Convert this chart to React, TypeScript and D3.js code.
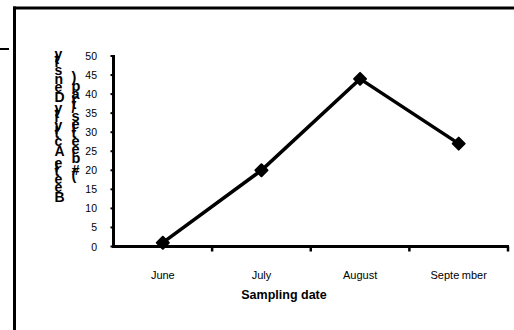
import React from "react";
import * as d3 from "d3";

const months = ["June", "July", "August", "September"];
const beetles = [1, 20, 44, 27];
const yTicks = [0, 5, 10, 15, 20, 25, 30, 35, 40, 45, 50];
const yTitle1 = "Beetle Activity Density";
const yTitle2 = "(# beetles/trap)";
const xTitle = "Sampling date";

// Arial/Liberation Sans Bold advance widths (per em)
const boldWidths: Record<string, number> = {
  " ": 0.278, "(": 0.333, ")": 0.333, "#": 0.556, "/": 0.278,
  A: 0.722, B: 0.722, D: 0.722, a: 0.556, b: 0.611, c: 0.556, e: 0.556,
  i: 0.278, l: 0.278, n: 0.611, p: 0.611, r: 0.389, s: 0.556, t: 0.333,
  v: 0.556, y: 0.556,
};

function StackedTitle({ text, x, bottom, size }: { text: string; x: number; bottom: number; size: number }) {
  let acc = 0;
  const items = text.split("").map((ch, i) => {
    const yy = bottom - acc;
    acc += (boldWidths[ch] ?? 0.556) * size;
    return { ch, yy, i };
  });
  return (
    <g>
      {items.map(({ ch, yy, i }) =>
        ch === " " ? null : (
          <text key={i} x={x} y={yy} fontSize={size} fontWeight="bold" fill="#000">
            {ch}
          </text>
        )
      )}
    </g>
  );
}

export default function App() {
  const W = 514, H = 330;
  const x0 = 113.5, x1 = 508, yTop = 56, yBot = 246.5;
  const x = d3.scaleBand<string>().domain(months).range([x0, x1]);
  const y = d3.scaleLinear().domain([0, 50]).range([yBot, yTop]);
  const line = d3
    .line<number>()
    .x((_, i) => (x(months[i]) as number) + x.bandwidth() / 2)
    .y((d) => y(d));
  const sq = d3.symbol(d3.symbolSquare, 72)();
  const font = "Liberation Sans, Arial, sans-serif";
  const boundaries = months.map((m) => (x(m) as number) + x.bandwidth());
  return (
    <svg
      width={W}
      height={H}
      style={{ position: "absolute", left: 0, top: 0, background: "#fff" }}
      fontFamily={font}
    >
      <rect x={0} y={0} width={W} height={H} fill="#fff" />
      {/* frame */}
      <line x1={14.5} x2={14.5} y1={6.5} y2={H} stroke="#000" strokeWidth={3} />
      <line x1={13} x2={W} y1={8} y2={8} stroke="#000" strokeWidth={3} />
      <line x1={0} x2={9} y1={49} y2={49} stroke="#000" strokeWidth={2} />

      {/* y axis */}
      <line x1={x0} x2={x0} y1={yTop - 1} y2={yBot + 1.5} stroke="#000" strokeWidth={3} />
      {yTicks.map((t) => (
        <g key={t}>
          <line x1={x0 - 3} x2={x0} y1={y(t)} y2={y(t)} stroke="#000" strokeWidth={2} />
          <text x={97} y={y(t) + 4} fontSize={10.5} textAnchor="end" fill="#000">
            {t}
          </text>
        </g>
      ))}
      {/* x axis */}
      <line x1={x0 - 1.5} x2={x1 + 1} y1={yBot} y2={yBot} stroke="#000" strokeWidth={3} />
      {boundaries.map((b, i) => (
        <line key={i} x1={b} x2={b} y1={yBot} y2={yBot + 5} stroke="#000" strokeWidth={2.5} />
      ))}
      {months.map((m) => (
        <text
          key={m}
          x={(x(m) as number) + x.bandwidth() / 2}
          y={279}
          fontSize={11}
          textAnchor="middle"
          fill="#000"
        >
          {m === "September" ? (
            <>
              <tspan>Septe</tspan>
              <tspan dx={2.5}>mber</tspan>
            </>
          ) : (
            m
          )}
        </text>
      ))}
      <text x={284} y={299} fontSize={12.5} fontWeight="bold" textAnchor="middle" fill="#000">
        {xTitle}
      </text>

      {/* y titles: upright glyphs stacked bottom-to-top */}
      <StackedTitle text={yTitle1} x={54.5} bottom={202} size={14} />
      <StackedTitle text={yTitle2} x={71.5} bottom={180} size={14.5} />

      {/* data */}
      <path d={line(beetles) || ""} fill="none" stroke="#000" strokeWidth={3.5} />
      {beetles.map((v, i) => (
        <path
          key={i}
          d={sq || ""}
          transform={`translate(${(x(months[i]) as number) + x.bandwidth() / 2},${y(v)}) rotate(45)`}
          fill="#000"
          stroke="#000"
          strokeWidth={2}
          strokeLinejoin="round"
        />
      ))}
    </svg>
  );
}
